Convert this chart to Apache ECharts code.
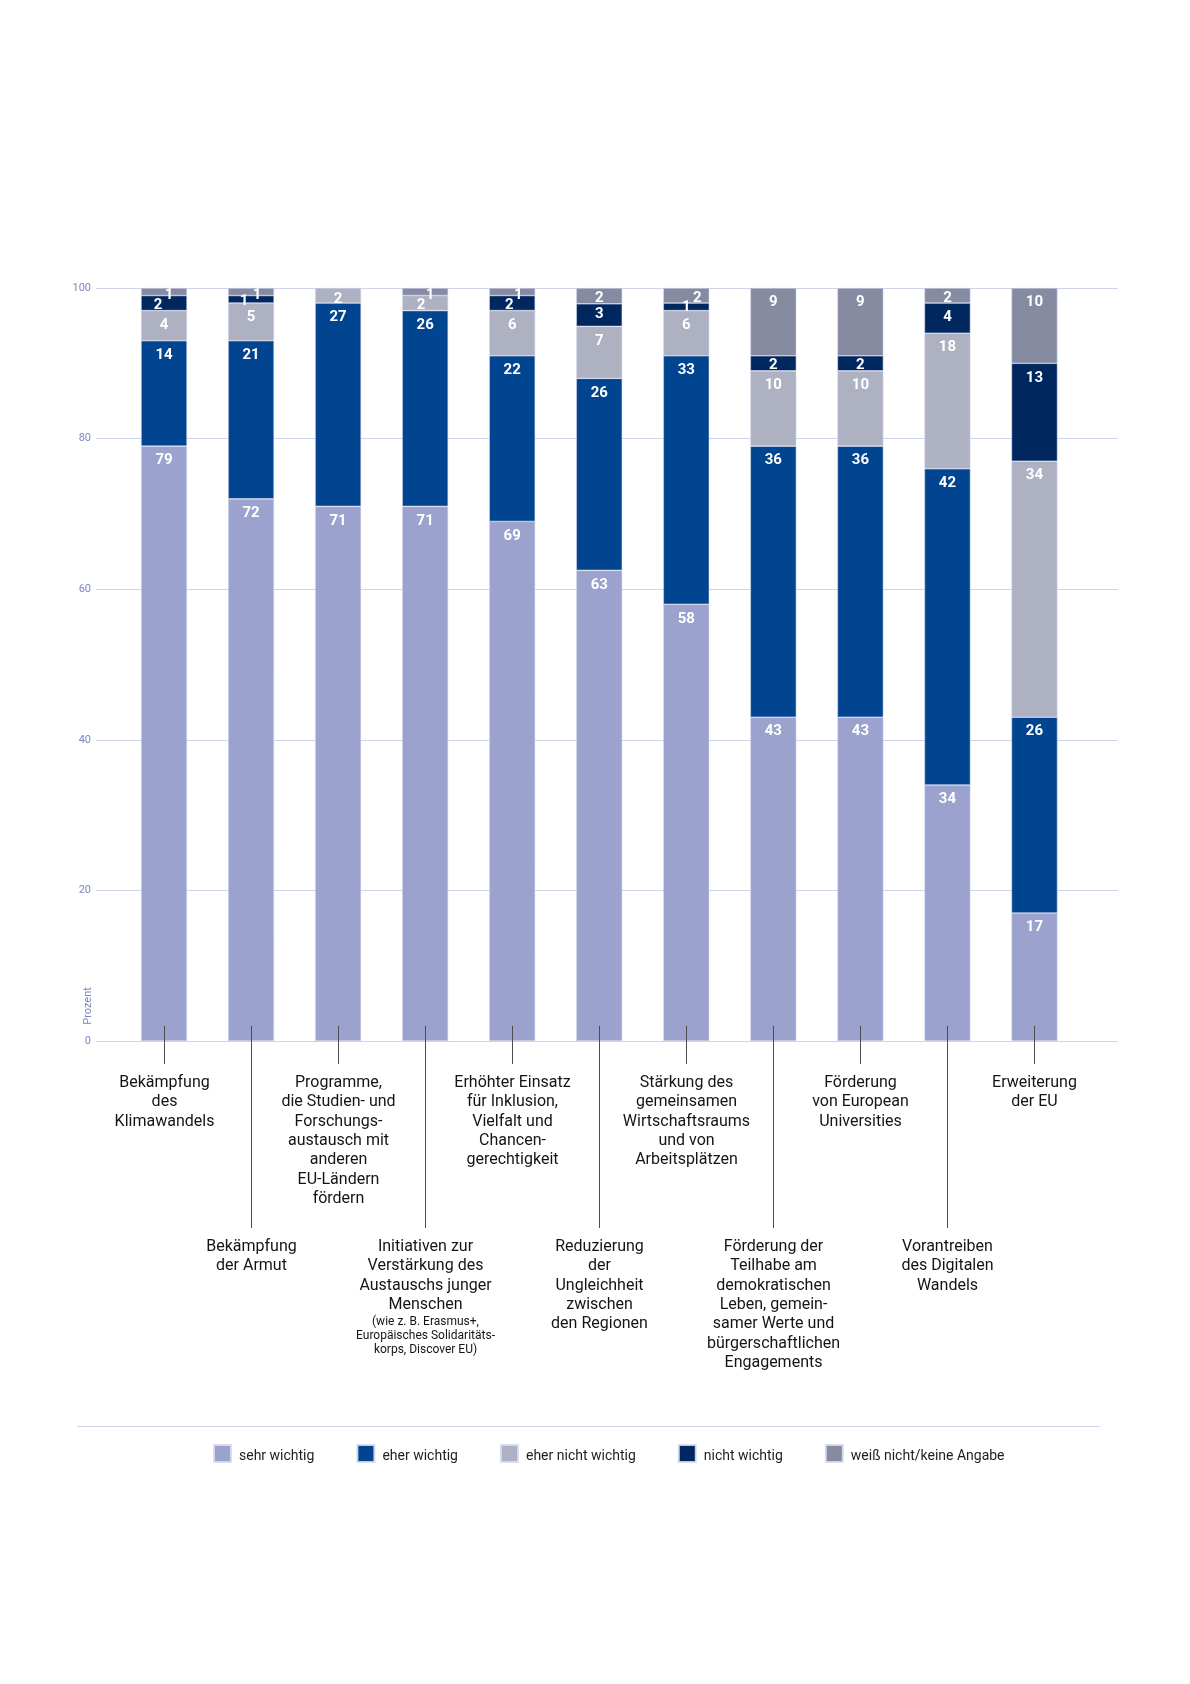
<!DOCTYPE html>
<html>
<head>
<meta charset="utf-8">
<script src="https://cdn.jsdelivr.net/npm/echarts@6/dist/echarts.min.js"></script>
<style>
  html, body { margin: 0; padding: 0; background: #ffffff; }
  #chart { width: 1190px; height: 1684px; }
</style>
</head>
<body>
<div id="chart"></div>
<script>
// ---------- data ----------
const categories = [
  "Bekämpfung\ndes\nKlimawandels",
  "Bekämpfung\nder Armut",
  "Programme,\ndie Studien- und\nForschungs-\naustausch mit\nanderen\nEU-Ländern\nfördern",
  "Initiativen zur\nVerstärkung des\nAustauschs junger\nMenschen",
  "Erhöhter Einsatz\nfür Inklusion,\nVielfalt und\nChancen-\ngerechtigkeit",
  "Reduzierung\nder\nUngleichheit\nzwischen\nden Regionen",
  "Stärkung des\ngemeinsamen\nWirtschaftsraums\nund von\nArbeitsplätzen",
  "Förderung der\nTeilhabe am\ndemokratischen\nLeben, gemein-\nsamer Werte und\nbürgerschaftlichen\nEngagements",
  "Förderung\nvon European\nUniversities",
  "Vorantreiben\ndes Digitalen\nWandels",
  "Erweiterung\nder EU"
];
const categoryNotes = ["", "", "", "(wie z. B. Erasmus+,\nEuropäisches Solidaritäts-\nkorps, Discover EU)", "", "", "", "", "", "", ""];

const seriesNames = ["sehr wichtig", "eher wichtig", "eher nicht wichtig", "nicht wichtig", "weiß nicht/keine Angabe"];
const sehrWichtig      = [79, 72, 71, 71, 69, 62.5, 58, 43, 43, 34, 17];
const eherWichtig      = [14, 21, 27, 26, 22, 25.5, 33, 36, 36, 42, 26];
const eherNichtWichtig = [4, 5, 2, 2, 6, 6.9, 6, 10, 10, 18, 34];
const nichtWichtig     = [2, 1, 0, 0, 2, 3.0, 1, 2, 2, 4, 13];
const weissNicht       = [1, 1, 0, 1, 1, 2.1, 2, 9, 9, 2, 10];
const yTicks = [0, 20, 40, 60, 80, 100];

// ---------- style ----------
const colors = ["#9aa2cd", "#01448f", "#aeb1c2", "#00285f", "#868ba2"];
const allValues = [sehrWichtig, eherWichtig, eherNichtWichtig, nichtWichtig, weissNicht];
// small label nudges for thin segments: series index -> {category index: [dx, dy]}
const labelNudge = {
  2: { 2: [0, -3.5], 3: [-4, -5] },
  3: { 0: [-6, -5], 1: [-7, -9], 4: [-3, -5], 5: [0, -4], 6: [0, -10.5], 7: [0, -5], 8: [0, -5] },
  4: { 0: [5, -7.5], 1: [6, -7.5], 3: [5, -7.5], 4: [6, -7.5], 5: [0, -4], 6: [11, -4.5], 9: [0, -4] }
};
const FONT = "Roboto, 'Noto Sans', sans-serif";

const barSeries = allValues.map((arr, s) => ({
  name: seriesNames[s],
  type: 'bar',
  stack: 'total',
  xAxisIndex: 1,
  yAxisIndex: 1,
  barWidth: 46,
  itemStyle: { color: colors[s], borderColor: 'rgba(214,218,238,0.9)', borderWidth: 0.6 },
  label: {
    show: true,
    position: 'insideTop',
    distance: 7,
    color: '#ffffff',
    fontFamily: FONT,
    fontWeight: 'bold',
    fontSize: 15,
    formatter: p => (p.value === '-' || p.value === 0) ? '' : String(Math.round(p.value))
  },
  data: arr.map((v, i) => {
    const nd = labelNudge[s] && labelNudge[s][i];
    const item = { value: v === 0 ? '-' : v };
    if (nd) item.label = { offset: nd };
    return item;
  })
}));

const labelSeries = {
  type: 'custom',
  xAxisIndex: 1,
  yAxisIndex: 1,
  z: 5,
  silent: true,
  clip: false,
  data: categories.map((c, i) => [i]),
  renderItem: function (params, api) {
    const i = api.value(0);
    const base = api.coord([i, 0]);
    const top = api.coord([i, 2]);
    const x = Math.round(base[0]) + 0.5;
    const y0 = base[1];
    const low = i % 2 === 1;
    const len = low ? 187 : 23;
    const textTop = low ? 196.5 : 32.5;
    let txt = categories[i].split('\n').map(l => '{m|' + l + '}').join('\n');
    if (categoryNotes[i]) {
      txt += '\n' + categoryNotes[i].split('\n').map(l => '{s|' + l + '}').join('\n');
    }
    return {
      type: 'group',
      children: [
        { type: 'line', shape: { x1: x, y1: top[1], x2: x, y2: y0 + len },
          style: { stroke: '#4d4d4d', lineWidth: 1 } },
        { type: 'text', x: x, y: y0 + textTop,
          style: {
            text: txt, align: 'center', verticalAlign: 'top', fill: '#141414',
            fontFamily: FONT, fontSize: 16,
            rich: {
              m: { fontFamily: FONT, fontSize: 16, lineHeight: 19.3, fill: '#141414', align: 'center' },
              s: { fontFamily: FONT, fontSize: 12, lineHeight: 14, fill: '#141414', align: 'center' }
            }
          } }
      ]
    };
  }
};

const chart = echarts.init(document.getElementById('chart'), null, { renderer: 'canvas' });
chart.setOption({
  backgroundColor: '#ffffff',
  animation: false,
  grid: [
    { left: 96, right: 72, top: 288, bottom: 643 },
    { left: 120.5, right: 112, top: 288, bottom: 643 }
  ],
  xAxis: [
    { type: 'value', gridIndex: 0, show: false, min: 0, max: 1 },
    { type: 'category', gridIndex: 1, data: categories, show: false }
  ],
  yAxis: [
    { type: 'value', gridIndex: 0, min: yTicks[0], max: yTicks[yTicks.length - 1], interval: 20,
      axisLine: { show: false }, axisTick: { show: false },
      axisLabel: { color: '#7d85c2', fontSize: 11, fontFamily: FONT, margin: 5 },
      splitLine: { lineStyle: { color: '#cfd3ec', width: 1 } } },
    { type: 'value', gridIndex: 1, min: 0, max: 100, show: false, splitLine: { show: false } }
  ],
  legend: {
    data: seriesNames,
    left: 208, top: 1439,
    itemWidth: 17, itemHeight: 17, itemGap: 42,
    icon: 'rect',
    formatter: name => '{t|' + name + '}',
    textStyle: {
      color: '#1e1e1e', fontSize: 14, fontFamily: FONT,
      rich: { t: { color: '#1e1e1e', fontSize: 14, fontFamily: FONT, padding: [6, 0, 0, 3] } }
    }
  },
  graphic: [
    { type: 'line', shape: { x1: 77, y1: 1426.5, x2: 1100, y2: 1426.5 },
      style: { stroke: '#cfd3ec', lineWidth: 1 } },
    { type: 'text', x: 88, y: 1006, rotation: Math.PI / 2,
      style: { text: 'Prozent', fill: '#7d85c2', fontSize: 11, fontFamily: FONT,
               align: 'center', verticalAlign: 'middle' } }
  ],
  series: barSeries.concat([labelSeries])
});
</script>
</body>
</html>
